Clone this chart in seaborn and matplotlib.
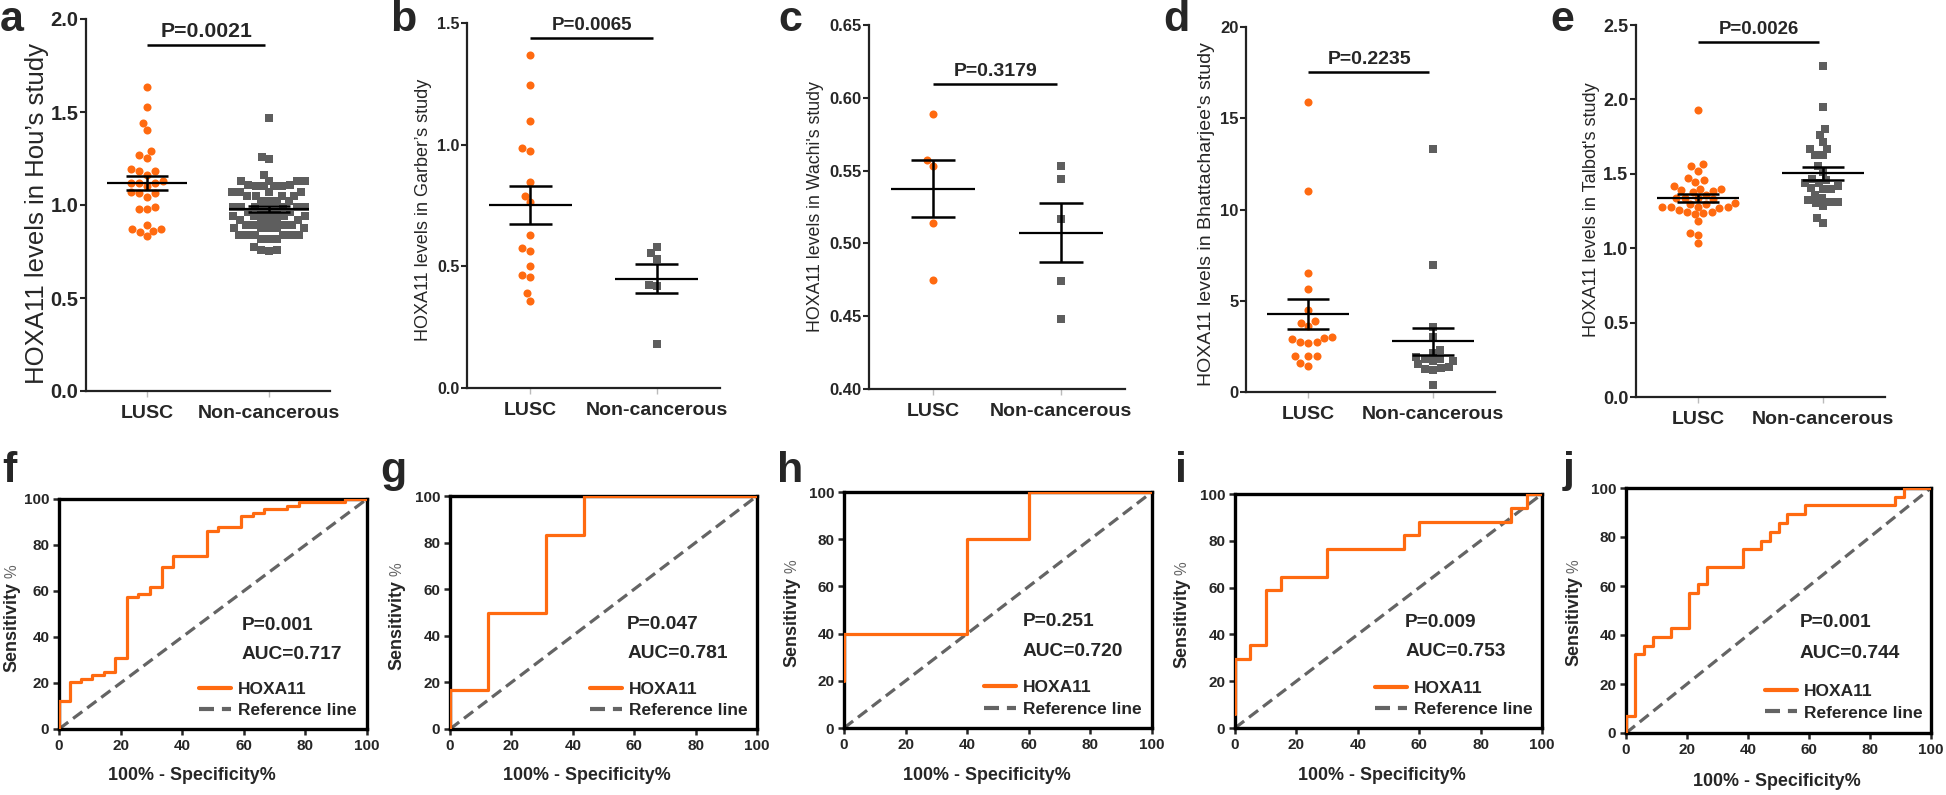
import numpy as np
import matplotlib
matplotlib.use("Agg")
import matplotlib.pyplot as plt
import seaborn as sns
from matplotlib import font_manager

# ---------------- data ----------------
groups = ["LUSC", "Non-cancerous"]

# a - Hou's study
hou_lusc = [1.633, 1.527, 1.403, 1.441, 1.271, 1.251, 1.290, 1.183, 1.183, 1.192,
            1.163, 1.129, 1.120, 1.120, 1.120, 1.102, 1.063, 1.045, 1.063, 1.072,
            0.978, 0.978, 0.987, 0.873, 0.862, 0.832, 0.853, 0.869, 0.891]
hou_normal = [1.47, 1.26, 1.245, 1.16,
              1.13, 1.13, 1.13, 1.13, 1.11, 1.11,
              1.10, 1.10, 1.10, 1.10,
              1.07, 1.07, 1.07, 1.07,
              1.05, 1.05, 1.05, 1.05,
              1.02, 1.02, 1.02, 1.02,
              0.99, 0.99, 0.99, 0.99, 0.99, 0.99,
              0.965, 0.965, 0.965, 0.965, 0.965,
              0.94, 0.94, 0.94, 0.94,
              0.92, 0.92, 0.92, 0.92, 0.92,
              0.895, 0.895, 0.895, 0.895,
              0.875, 0.875, 0.875, 0.875, 0.875,
              0.84, 0.84, 0.84, 0.84, 0.84, 0.84,
              0.815, 0.815, 0.815,
              0.775, 0.76, 0.755, 0.76]

# b - Garber's study
garber_lusc = [1.368, 1.247, 1.097, 0.988, 0.975, 0.847, 0.790, 0.763, 0.630, 0.575,
               0.562, 0.500, 0.466, 0.455, 0.389, 0.358]
garber_normal = [0.578, 0.532, 0.553, 0.425, 0.421, 0.182]

# c - Wachi's study
wachi_lusc = [0.589, 0.557, 0.553, 0.514, 0.475]
wachi_normal = [0.5535, 0.544, 0.517, 0.474, 0.448]

# d - Bhattacharjee's study
bhatt_lusc = [15.89, 10.99, 6.54, 5.63, 4.51, 3.78, 3.89, 3.60, 2.98, 2.76,
              2.67, 2.76, 2.92, 3.01, 1.95, 1.95, 1.95, 1.44, 1.59]
bhatt_normal = [13.33, 6.96, 3.56, 3.01, 2.28, 1.92, 1.83, 1.83, 2.16, 1.70,
                1.70, 1.37, 1.28, 1.22, 1.32, 1.52, 0.40]

# e - Talbot's study
talbot_lusc = [1.93, 1.565, 1.55, 1.52, 1.475, 1.455, 1.445, 1.415, 1.40, 1.39,
               1.385, 1.40, 1.375, 1.36, 1.34, 1.34, 1.335, 1.33, 1.30, 1.28,
               1.295, 1.305, 1.275, 1.27, 1.26, 1.275, 1.275, 1.245, 1.24, 1.235,
               1.23, 1.18, 1.105, 1.09, 1.035]
talbot_normal = [2.224, 1.946, 1.800, 1.760, 1.713, 1.666, 1.666, 1.623, 1.623, 1.554,
                 1.513, 1.462, 1.455, 1.435, 1.439, 1.417, 1.395, 1.395, 1.406, 1.359,
                 1.336, 1.312, 1.307, 1.312, 1.323, 1.285, 1.200, 1.166]

# ROC curves (100% - specificity, sensitivity) step vertices
roc_f_x = [0, 0, 3.5, 7.3, 10.7, 14.6, 18.1, 22.1, 25.5, 29.7, 33.3, 36.9, 48.2,
           51.7, 59.0, 63.1, 66.4, 74.0, 78.0, 93.0, 100]
roc_f_y = [0, 12.3, 20.4, 21.9, 23.3, 25.0, 30.8, 57.3, 58.6, 61.6, 70.6, 75.4, 86.3,
           87.7, 92.6, 94.1, 95.5, 97.0, 98.5, 100, 100]
roc_g_x = [0, 0, 12.5, 31.25, 43.75, 100]
roc_g_y = [0, 16.7, 50.0, 83.3, 100, 100]
roc_h_x = [0, 0, 40, 60, 100]
roc_h_y = [20, 40, 80, 100, 100]
roc_i_x = [0, 0, 5, 10, 15, 30, 55, 60, 90, 95, 100]
roc_i_y = [5.9, 29.4, 35.3, 58.8, 64.7, 76.5, 82.4, 88.2, 94.1, 100, 100]
roc_j_x = [0, 0, 2.94, 5.88, 8.82, 14.71, 20.59, 23.53, 26.47, 38.24, 44.12, 47.06,
           50.0, 52.94, 58.82, 88.24, 91.18, 100]
roc_j_y = [0, 7.14, 32.14, 35.71, 39.29, 42.86, 57.14, 60.71, 67.86, 75.0, 78.57, 82.14,
           85.71, 89.29, 92.86, 96.43, 100, 100]

top_p = ["P=0.0021", "P=0.0065", "P=0.3179", "P=0.2235", "P=0.0026"]
roc_p = ["P=0.001", "P=0.047", "P=0.251", "P=0.009", "P=0.001"]
roc_auc = ["AUC=0.717", "AUC=0.781", "AUC=0.720", "AUC=0.753", "AUC=0.744"]

# ---------------- styling ----------------
ORANGE = "#FF6A10"
GRAY = "#5E5E5E"
REF_GRAY = "#646464"
W, H = 1946, 795

sns.set_style("ticks")
plt.rcParams["font.family"] = ["Liberation Sans", "DejaVu Sans"]
names = {f.name for f in font_manager.fontManager.ttflist}
if "Liberation Sans Narrow" in names:
    NARROW, NS = "Liberation Sans Narrow", 1.0
else:
    # no condensed face: shrink a bit so the text widths match the original
    NARROW, NS = "Liberation Sans", 0.86


def box(l, t, r, b):
    return [l / W, 1 - b / H, (r - l) / W, (b - t) / H]


def scatter_panel(ax, lusc, normal, ylim, yticks, fmt, ylabel, ylab_size, lab_pos,
                  pval, bar_y, tick_size, p_size):
    sns.swarmplot(x=["LUSC"] * len(lusc), y=lusc, order=groups, color=ORANGE,
                  marker="o", size=5.8, linewidth=0, ax=ax, zorder=2)
    sns.swarmplot(x=["Non-cancerous"] * len(normal), y=normal, order=groups, color=GRAY,
                  marker="s", size=5.5, linewidth=0, ax=ax, zorder=2)
    for i, vals in enumerate([lusc, normal]):
        v = np.asarray(vals)
        m = v.mean()
        se = v.std(ddof=1) / np.sqrt(len(v))
        ax.hlines(m, i - 0.33, i + 0.33, color="black", lw=1.6, zorder=4)
        ax.hlines([m - se, m + se], i - 0.17, i + 0.17, color="black", lw=1.8, zorder=4)
        ax.vlines(i, m - se, m + se, color="black", lw=1.8, zorder=4)
    ax.hlines(bar_y, 0, 0.97, color="black", lw=1.8)
    ax.annotate(pval, xy=(0.49, bar_y), xytext=(0, 5.5), textcoords="offset points",
                ha="center", va="baseline", fontsize=p_size, fontweight="bold")
    ax.set_xlim(-0.5, 1.5)
    ax.set_ylim(*ylim)
    ax.set_yticks(yticks)
    ax.set_yticklabels([fmt.format(t) for t in yticks], fontsize=tick_size,
                       fontweight="bold")
    ax.set_xticks([0, 1])
    ax.set_xticklabels(groups, fontsize=14, fontweight="bold")
    ax.set_ylabel(ylabel, fontsize=ylab_size)
    ax.yaxis.label.set_va("center")
    ax.yaxis.set_label_coords(*lab_pos)
    sns.despine(ax=ax)
    for s in ["left", "bottom"]:
        ax.spines[s].set_linewidth(1.6)
        ax.spines[s].set_color("#222222")
    ax.tick_params(axis="y", length=4, width=1.5, pad=1.5)
    ax.tick_params(axis="x", length=4, width=1.0, pad=6, color="#bbbbbb")


def roc_panel(ax, fx, fy, p, auc, lab_x, xlab_x, txt_x):
    sns.lineplot(x=[0, 100], y=[0, 100], color=REF_GRAY, lw=2.3,
                 linestyle=(0, (3.6, 1.9)), ax=ax, label="Reference line", zorder=2)
    sns.lineplot(x=fx, y=fy, estimator=None, sort=False, drawstyle="steps-post",
                 color=ORANGE, lw=2.3, ax=ax, label="HOXA11", zorder=3)
    ax.set_xlim(0, 100)
    ax.set_ylim(0, 100)
    ticks = [0, 20, 40, 60, 80, 100]
    ax.set_xticks(ticks)
    ax.set_yticks(ticks)
    ax.set_xticklabels(ticks, fontsize=12.8 * NS, fontweight="bold", family=NARROW)
    ax.set_yticklabels(ticks, fontsize=12.8 * NS, fontweight="bold", family=NARROW)
    ax.tick_params(length=4.5, width=1.8, pad=2.5)
    for s in ax.spines.values():
        s.set_linewidth(2.4)
        s.set_color("black")
    ax.set_xlabel("100% - Specificity%", fontsize=15 * NS, fontweight="bold",
                  family=NARROW)
    ax.xaxis.set_label_coords(xlab_x, -0.165)
    ax.set_ylabel("")
    ax.text(lab_x, 0.64, "Sensitivity", transform=ax.transAxes, rotation=90,
            rotation_mode="anchor", ha="right", va="center", fontsize=15 * NS,
            fontweight="bold", family=NARROW)
    ax.text(lab_x, 0.655, "%", transform=ax.transAxes, rotation=90,
            rotation_mode="anchor", ha="left", va="center", fontsize=13 * NS,
            color="#666666", family=NARROW)
    ax.text(txt_x, 0.45, p, transform=ax.transAxes, ha="left", va="center",
            fontsize=16 * NS, fontweight="bold", family=NARROW)
    ax.text(txt_x, 0.325, auc, transform=ax.transAxes, ha="left", va="center",
            fontsize=16 * NS, fontweight="bold", family=NARROW)
    handles, labels = ax.get_legend_handles_labels()
    order = [labels.index("HOXA11"), labels.index("Reference line")]
    leg = ax.legend([handles[k] for k in order], [labels[k] for k in order],
                    loc="center left", bbox_to_anchor=(0.455, 0.125), frameon=False,
                    borderpad=0, borderaxespad=0, handlelength=1.85, handletextpad=0.4,
                    labelspacing=0.35,
                    prop={"family": NARROW, "weight": "bold", "size": 14.5 * NS})
    for line in leg.get_lines():
        line.set_linewidth(3.0)


fig = plt.figure(figsize=(W / 100, H / 100), dpi=100)

top_boxes = [(86, 19, 330, 391), (467, 23, 720, 388), (869, 25, 1125, 389),
             (1246, 27, 1495, 392), (1636, 25, 1885, 397)]
top_specs = [
    (hou_lusc, hou_normal, (0, 2.0), [0, 0.5, 1.0, 1.5, 2.0], "{:.1f}",
     "HOXA11 levels in Hou\u2019s study", 18.5, (-0.20, 0.478), 1.86, 14.5, 15.3),
    (garber_lusc, garber_normal, (0, 1.5), [0, 0.5, 1.0, 1.5], "{:.1f}",
     "HOXA11 levels in Garber\u2019s study", 13, (-0.17, 0.488), 1.44, 11.5, 13.5),
    (wachi_lusc, wachi_normal, (0.40, 0.65), [0.40, 0.45, 0.50, 0.55, 0.60, 0.65],
     "{:.2f}", "HOXA11 levels in Wachi's study", 12.8, (-0.21, 0.50), 0.6095, 12, 14),
    (bhatt_lusc, bhatt_normal, (0, 20), [0, 5, 10, 15, 20], "{:.0f}",
     "HOXA11 levels in Bhattacharjee's study", 14, (-0.16, 0.488), 17.55, 12, 14),
    (talbot_lusc, talbot_normal, (0, 2.5), [0, 0.5, 1.0, 1.5, 2.0, 2.5], "{:.1f}",
     "HOXA11 levels in Talbot's study", 13.1, (-0.177, 0.503), 2.388, 13, 13.4),
]
for bx, spec, p in zip(top_boxes, top_specs, top_p):
    ax = fig.add_axes(box(*bx))
    lusc, normal, ylim, yt, fmt, ylab, ysz, lpos, bar_y, tsz, psz = spec
    scatter_panel(ax, lusc, normal, ylim, yt, fmt, ylab, ysz, lpos, p, bar_y, tsz, psz)

bottom_boxes = [(59, 499, 367, 729), (450, 496, 757, 729), (844, 492, 1152, 728),
                (1235, 494, 1542, 728), (1626, 488, 1931, 733)]
roc_curves = [(roc_f_x, roc_f_y), (roc_g_x, roc_g_y), (roc_h_x, roc_h_y),
              (roc_i_x, roc_i_y), (roc_j_x, roc_j_y)]
ylab_x = [-0.153, -0.172, -0.170, -0.172, -0.172]
xlab_x = [0.432, 0.446, 0.464, 0.479, 0.495]
txt_x = [0.594, 0.577, 0.581, 0.554, 0.57]
for k, bx in enumerate(bottom_boxes):
    ax = fig.add_axes(box(*bx))
    fx, fy = roc_curves[k]
    roc_panel(ax, fx, fy, roc_p[k], roc_auc[k], ylab_x[k], xlab_x[k], txt_x[k])

# panel letters
letters = [("a", 0, 31), ("b", 390, 31), ("c", 778, 31), ("d", 1163, 31), ("e", 1550, 31),
           ("f", 2, 482), ("g", 380, 482), ("h", 777, 482), ("i", 1175, 482), ("j", 1563, 482)]
for t, x, y in letters:
    fig.text(x / W, 1 - y / H, t, fontsize=31, fontweight="bold", va="baseline", ha="left")

fig.savefig("out.png", dpi=100)
